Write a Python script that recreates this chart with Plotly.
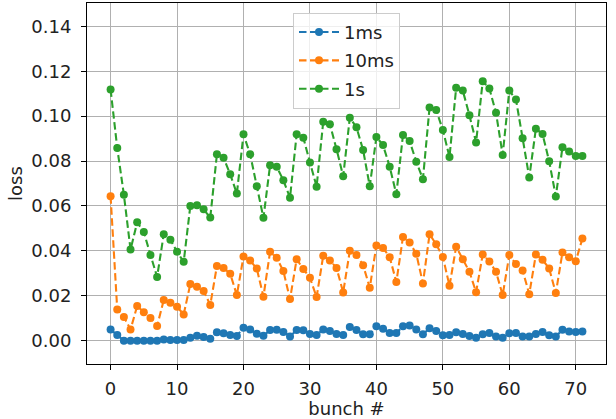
import plotly.graph_objects as go

# loss per bunch for three time windows
bunch = list(range(72))

loss_1ms = [
    0.0050, 0.0025, 0.0000, 0.0000, 0.0000, 0.0000, 0.0000, 0.0000, 0.0005, 0.0003,
    0.0003, 0.0003, 0.0013, 0.0022, 0.0016, 0.0009, 0.0037, 0.0033, 0.0025, 0.0021,
    0.0058, 0.0050, 0.0031, 0.0022, 0.0047, 0.0049, 0.0039, 0.0019, 0.0047, 0.0046,
    0.0030, 0.0025, 0.0050, 0.0043, 0.0030, 0.0025, 0.0061, 0.0047, 0.0028, 0.0028,
    0.0064, 0.0053, 0.0034, 0.0034, 0.0064, 0.0067, 0.0050, 0.0029, 0.0055, 0.0043,
    0.0024, 0.0025, 0.0037, 0.0030, 0.0021, 0.0013, 0.0028, 0.0034, 0.0019, 0.0013,
    0.0033, 0.0034, 0.0019, 0.0019, 0.0030, 0.0039, 0.0024, 0.0019, 0.0049, 0.0041,
    0.0039, 0.0041,
]

loss_10ms = [
    0.0643, 0.0139, 0.0105, 0.0050, 0.0154, 0.0127, 0.0101, 0.0065, 0.0181, 0.0169,
    0.0151, 0.0117, 0.0252, 0.0240, 0.0221, 0.0159, 0.0333, 0.0324, 0.0298, 0.0203,
    0.0375, 0.0357, 0.0321, 0.0196, 0.0396, 0.0369, 0.0310, 0.0185, 0.0363, 0.0319,
    0.0280, 0.0194, 0.0378, 0.0357, 0.0324, 0.0215, 0.0400, 0.0382, 0.0336, 0.0236,
    0.0424, 0.0413, 0.0372, 0.0261, 0.0462, 0.0437, 0.0387, 0.0255, 0.0474, 0.0429,
    0.0373, 0.0244, 0.0418, 0.0363, 0.0307, 0.0216, 0.0384, 0.0353, 0.0307, 0.0203,
    0.0381, 0.0341, 0.0313, 0.0207, 0.0384, 0.0360, 0.0321, 0.0212, 0.0393, 0.0372,
    0.0354, 0.0455,
]

loss_1s = [
    0.1119, 0.0858, 0.0650, 0.0406, 0.0527, 0.0484, 0.0382, 0.0284, 0.0474, 0.0449,
    0.0396, 0.0351, 0.0600, 0.0603, 0.0585, 0.0548, 0.0830, 0.0815, 0.0741, 0.0655,
    0.0919, 0.0830, 0.0688, 0.0547, 0.0781, 0.0775, 0.0714, 0.0637, 0.0919, 0.0904,
    0.0794, 0.0686, 0.0975, 0.0964, 0.0853, 0.0732, 0.0993, 0.0950, 0.0849, 0.0688,
    0.0907, 0.0871, 0.0775, 0.0652, 0.0916, 0.0889, 0.0797, 0.0719, 0.1039, 0.1027,
    0.0938, 0.0818, 0.1126, 0.1114, 0.1004, 0.0883, 0.1156, 0.1123, 0.1015, 0.0827,
    0.1114, 0.1074, 0.0902, 0.0727, 0.0944, 0.0920, 0.0799, 0.0642, 0.0862, 0.0843,
    0.0822, 0.0822,
]

series = [
    ("1ms", loss_1ms, "#1f77b4"),
    ("10ms", loss_10ms, "#ff7f0e"),
    ("1s", loss_1s, "#2ca02c"),
]

y_ticks = [0.00, 0.02, 0.04, 0.06, 0.08, 0.10, 0.12, 0.14]
x_ticks = [0, 10, 20, 30, 40, 50, 60, 70]

fig = go.Figure()
for name, values, color in series:
    fig.add_trace(go.Scatter(
        x=bunch, y=values, name=name, mode="lines+markers",
        line=dict(color=color, width=2.1, dash="7.5px,3.5px"),
        marker=dict(color=color, size=8),
        legendgroup=name,
    ))

font = dict(family="DejaVu Sans", size=18, color="#222222")

axis_common = dict(
    showline=True, linecolor="#000000", linewidth=1.1, mirror=True,
    showgrid=True, gridcolor="#b0b0b0", gridwidth=1.1,
    ticks="outside", ticklen=5, tickwidth=1.1, tickcolor="#000000",
    zeroline=False, tickfont=font, automargin=False,
)

fig.update_layout(
    width=616, height=419,
    margin=dict(l=87, r=10, t=3, b=55),
    paper_bgcolor="white", plot_bgcolor="white",
    font=font,
    showlegend=True,
    legend=dict(
        x=0.5, xanchor="center", y=0.973, yanchor="top",
        bgcolor="rgba(255,255,255,0.8)", bordercolor="#cccccc", borderwidth=1,
        font=font, itemwidth=40,
        tracegroupgap=2,
    ),
    xaxis=dict(
        range=[-3.55, 74.55], tickvals=x_ticks, ticklabelstandoff=3,
        title=dict(text="bunch #", font=font, standoff=4),
        **axis_common,
    ),
    yaxis=dict(
        range=[-0.0104, 0.1504], tickvals=y_ticks, tickformat=".2f",
        ticklabelstandoff=6,
        title=dict(text="loss", font=font, standoff=3),
        **axis_common,
    ),
)

fig.write_html("out.html")
